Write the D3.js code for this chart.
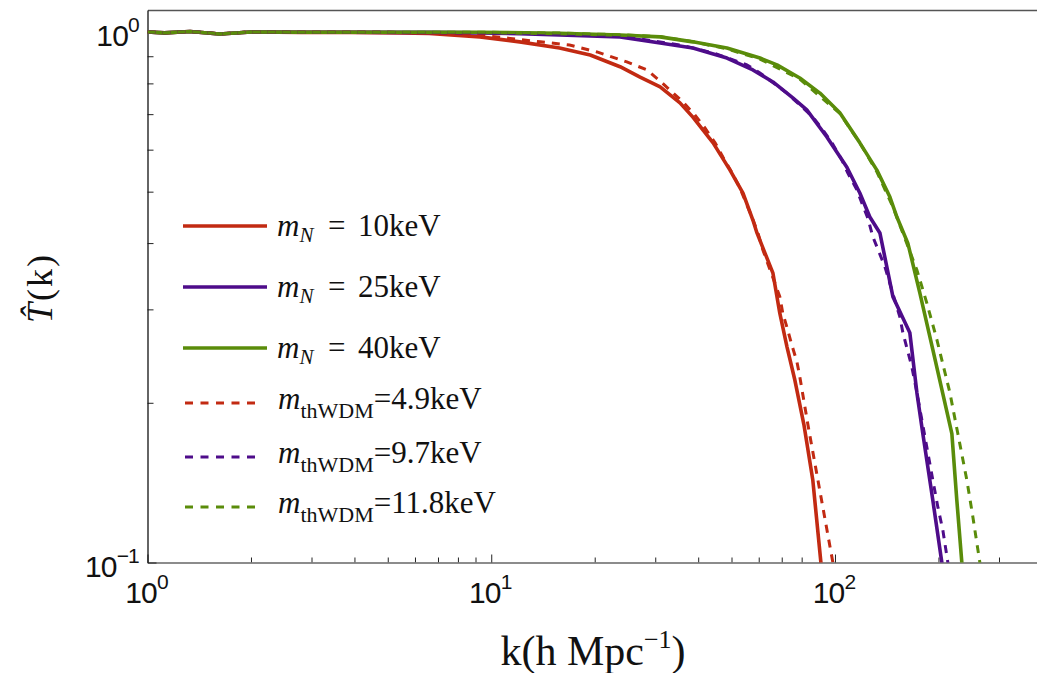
<!DOCTYPE html>
<html lang="en">
<head>
<meta charset="UTF-8">
<title>Transfer function T(k)</title>
<script src="https://cdn.jsdelivr.net/npm/d3@7"></script>
<style>
  body { margin: 0; background: #fff; }
  svg { display: block; }
</style>
</head>
<body>
<svg id="chart"></svg>
<script>
// solid lines: sterile neutrino m_N
const k10 = [1, 1.12, 1.33, 1.62, 2.0, 2.8, 3.9, 5.4, 6.6, 9.27, 12.1, 15.8, 19.4, 23.7, 27.1, 31.0, 35.4, 38.6, 44.2, 49.5, 54.0, 57.7, 59.3, 66.0, 69.1, 72.5, 76.4, 81.2, 86.2, 91.0, 93.0];
const t10 = [1.0, 0.996, 1.002, 0.991, 1.0, 0.998, 0.998, 0.996, 0.994, 0.979, 0.958, 0.933, 0.905, 0.860, 0.822, 0.788, 0.735, 0.691, 0.618, 0.549, 0.497, 0.442, 0.418, 0.351, 0.295, 0.255, 0.221, 0.182, 0.143, 0.100, 0.085];

const k25 = [1, 1.12, 1.33, 1.62, 2.0, 2.8, 3.9, 5.4, 6.6, 9.27, 12.1, 15.8, 23.7, 31.0, 38.6, 48.5, 57.7, 66.0, 75.4, 82.8, 94.7, 108.3, 118.1, 126.3, 135.1, 147.4, 165.1, 173.1, 180.1, 192.6, 204.6, 208];
const t25 = [1.0, 0.996, 1.002, 0.991, 1.0, 0.999, 0.999, 0.998, 0.998, 0.996, 0.993, 0.987, 0.979, 0.953, 0.933, 0.893, 0.848, 0.805, 0.751, 0.713, 0.634, 0.556, 0.497, 0.448, 0.418, 0.317, 0.271, 0.209, 0.175, 0.131, 0.100, 0.09];

const k40 = [1, 1.12, 1.33, 1.62, 2.0, 2.8, 3.9, 5.4, 6.6, 9.27, 15.8, 23.7, 31.0, 38.6, 48.5, 60.5, 67.8, 79.0, 90.4, 103.3, 118.1, 132.4, 144.4, 151.4, 162.9, 176.6, 192.6, 218.8, 226.2, 233.9, 236];
const t40 = [1.0, 0.996, 1.002, 0.991, 1.0, 0.999, 0.999, 0.999, 0.999, 0.999, 0.994, 0.987, 0.979, 0.958, 0.933, 0.893, 0.867, 0.819, 0.767, 0.704, 0.618, 0.549, 0.489, 0.448, 0.400, 0.322, 0.252, 0.175, 0.131, 0.100, 0.09];

// dashed lines: thermal WDM
const kW49 = [1, 1.12, 1.33, 1.62, 2.0, 2.8, 3.9, 5.4, 6.6, 9.27, 13.9, 16.9, 20.3, 24.8, 28.4, 31.0, 36.1, 39.1, 41.8, 44.8, 47.2, 50.1, 52.9, 57.3, 59.7, 61.7, 69.1, 70.5, 72.9, 74.9, 77.5, 79.0, 83.4, 89.2, 98.6, 101];
const tW49 = [1.0, 0.997, 1.002, 0.992, 1.0, 0.999, 0.999, 0.998, 0.996, 0.987, 0.958, 0.945, 0.917, 0.878, 0.848, 0.808, 0.738, 0.698, 0.660, 0.618, 0.581, 0.544, 0.508, 0.448, 0.418, 0.388, 0.317, 0.295, 0.274, 0.257, 0.239, 0.224, 0.182, 0.143, 0.100, 0.09];

const kW97 = [1, 1.12, 1.33, 1.62, 2.0, 2.8, 3.9, 5.4, 6.6, 9.27, 15.8, 23.7, 35.4, 44.2, 55.4, 60.5, 72.5, 86.2, 92.2, 98.0, 104.7, 109.0, 115.8, 119.7, 124.6, 128.9, 139.7, 146.4, 154.5, 157.6, 167.3, 173.1, 186.3, 192.6, 199.3, 206.0, 213.0, 216];
const tW97 = [1.0, 0.997, 1.002, 0.992, 1.0, 0.999, 0.999, 0.998, 0.998, 0.996, 0.991, 0.983, 0.945, 0.913, 0.867, 0.837, 0.767, 0.691, 0.654, 0.618, 0.574, 0.542, 0.504, 0.476, 0.446, 0.411, 0.361, 0.326, 0.290, 0.271, 0.234, 0.209, 0.161, 0.143, 0.127, 0.115, 0.100, 0.09];

const kW118 = [1, 1.12, 1.33, 1.62, 2.0, 2.8, 3.9, 5.4, 6.6, 9.27, 15.8, 23.7, 31.0, 38.6, 48.5, 60.5, 79.0, 103.3, 118.1, 132.4, 147.4, 173.1, 185.1, 197.9, 215.9, 227.7, 241.9, 251.8, 263.9, 268];
const tW118 = [1.0, 0.997, 1.002, 0.992, 1.0, 0.999, 0.999, 0.999, 0.999, 0.999, 0.995, 0.988, 0.980, 0.959, 0.929, 0.889, 0.815, 0.702, 0.618, 0.545, 0.468, 0.356, 0.308, 0.263, 0.209, 0.175, 0.143, 0.122, 0.100, 0.09];

const massN = ['10keV', '25keV', '40keV'];
const massWDM = ['4.9keV', '9.7keV', '11.8keV'];
const xMajor = [1, 10, 100];
const xMajorExp = ['0', '1', '2'];
const xMinor = [2, 3, 4, 5, 6, 7, 8, 9, 20, 30, 40, 50, 60, 70, 80, 90, 200, 300];
const yMajor = [0.1, 1];
const yMajorExp = ['\u22121', '0'];
const yMinor = [0.2, 0.3, 0.4, 0.5, 0.6, 0.7, 0.8, 0.9];

const colors = ['#c22a12', '#4e0c8a', '#5a8c0a'];

const SERIF = '"Liberation Serif", "Tinos", "Times New Roman", "DejaVu Serif", serif';
const SANS = '"Liberation Sans", Arimo, Arial, Helvetica, sans-serif';

const width = 1037, height = 673;
const svg = d3.select('#chart').attr('width', width).attr('height', height);

const x = d3.scaleLog().domain([1, 387]).range([147.5, 1037]);
const y = d3.scaleLog().domain([0.1, 1.1]).range([562.5, 10]);

svg.append('clipPath').attr('id', 'plotclip')
  .append('rect')
  .attr('x', x.range()[0]).attr('y', y.range()[1])
  .attr('width', x.range()[1] - x.range()[0])
  .attr('height', y.range()[0] - y.range()[1]);

// frame
svg.append('g')
  .attr('transform', `translate(0,${y.range()[1]})`)
  .call(d3.axisTop(x).tickValues([]).tickSizeOuter(0))
  .select('.domain').attr('stroke', '#555').attr('stroke-width', 1.3);

// ticks
const bottomMinor = svg.append('g')
  .attr('transform', `translate(0,${y.range()[0]})`)
  .call(d3.axisBottom(x).tickValues(xMinor).tickSize(-5).tickSizeOuter(0).tickFormat(''));
const bottomMajor = svg.append('g')
  .attr('transform', `translate(0,${y.range()[0]})`)
  .call(d3.axisBottom(x).tickValues(xMajor).tickSize(-8).tickSizeOuter(0).tickFormat(''));
bottomMinor.select('.domain').remove();
bottomMajor.select('.domain').attr('stroke', '#666').attr('stroke-width', 1.3);

const leftMinor = svg.append('g')
  .attr('transform', `translate(${x.range()[0]},0)`)
  .call(d3.axisLeft(y).tickValues(yMinor).tickSize(-6).tickSizeOuter(0).tickFormat(''));
const leftMajor = svg.append('g')
  .attr('transform', `translate(${x.range()[0]},0)`)
  .call(d3.axisLeft(y).tickValues(yMajor).tickSize(-9).tickSizeOuter(0).tickFormat(''));
leftMinor.select('.domain').remove();
leftMajor.select('.domain').attr('stroke', '#111').attr('stroke-width', 1.3);
svg.selectAll('.tick line').attr('stroke', '#222').attr('stroke-width', 1);

// tick labels with exponents
function powerLabel(px, py, anchor, exp) {
  const t = svg.append('text')
    .attr('x', px).attr('y', py)
    .attr('text-anchor', anchor)
    .attr('fill', '#111')
    .style('font-family', SANS)
    .style('font-size', '30px')
    .style('letter-spacing', '-0.8px');
  t.append('tspan').text('10');
  t.append('tspan').attr('dy', -14).style('font-size', '21px').text(exp);
}
xMajor.forEach((v, i) => powerLabel(x(v) - 1, y.range()[0] + 40, 'middle', xMajorExp[i]));
yMajor.forEach((v, i) => powerLabel(139, y(v) + 14, 'end', yMajorExp[i]));

// axis titles
const xt = svg.append('text')
  .attr('x', 593).attr('y', 665).attr('text-anchor', 'middle')
  .attr('fill', '#111')
  .style('font-family', SERIF).style('font-size', '42px');
xt.append('tspan').text('k(h Mpc');
xt.append('tspan').attr('dy', -17).style('font-size', '26px').text('\u22121');
xt.append('tspan').attr('dy', 17).text(')');

const yt = svg.append('text')
  .attr('transform', 'translate(52,288) rotate(-90)')
  .attr('text-anchor', 'middle')
  .attr('fill', '#111')
  .style('font-family', SERIF).style('font-size', '36px').style('letter-spacing', '2px');
yt.append('tspan').style('font-style', 'italic').text('T\u0302');
yt.append('tspan').text('(k)');

// curves
const line = d3.line().x(d => x(d[0])).y(d => y(d[1]));
const solid = [[k10, t10], [k25, t25], [k40, t40]];
const dashed = [[kW49, tW49], [kW97, tW97], [kW118, tW118]];
const plot = svg.append('g').attr('clip-path', 'url(#plotclip)');

solid.forEach((s, i) => {
  plot.append('path')
    .datum(d3.zip(s[0], s[1]))
    .attr('d', line)
    .attr('fill', 'none')
    .attr('stroke', colors[i])
    .attr('stroke-width', 3.6)
    .attr('stroke-linejoin', 'round');
});
dashed.forEach((s, i) => {
  plot.append('path')
    .datum(d3.zip(s[0], s[1]))
    .attr('d', line)
    .attr('fill', 'none')
    .attr('stroke', colors[i])
    .attr('stroke-width', 3)
    .attr('stroke-dasharray', '8,7');
});

// legend
const legend = svg.append('g');
const solidRows = [226, 287, 348];
const dashRows = [403, 457, 507];
massN.forEach((m, i) => {
  legend.append('line')
    .attr('x1', 183).attr('x2', 267).attr('y1', solidRows[i]).attr('y2', solidRows[i])
    .attr('stroke', colors[i]).attr('stroke-width', 3.6);
  const t = legend.append('text')
    .attr('x', 277).attr('y', solidRows[i] + 10)
    .attr('fill', '#111')
    .style('font-family', SERIF).style('font-size', '31px');
  t.append('tspan').style('font-style', 'italic').text('m');
  t.append('tspan').attr('dy', 6).style('font-style', 'italic').style('font-size', '21px').text('N');
  t.append('tspan').attr('dy', -6).attr('x', 328).text('=');
  t.append('tspan').attr('x', 358).text(m);
});
massWDM.forEach((m, i) => {
  legend.append('line')
    .attr('x1', 185).attr('x2', 262).attr('y1', dashRows[i]).attr('y2', dashRows[i])
    .attr('stroke', colors[i]).attr('stroke-width', 3).attr('stroke-dasharray', '8,7.5');
  const t = legend.append('text')
    .attr('x', 278).attr('y', dashRows[i] + 6)
    .attr('fill', '#111')
    .style('font-family', SERIF).style('font-size', '31px');
  t.append('tspan').style('font-style', 'italic').text('m');
  t.append('tspan').attr('dy', 9).style('font-size', '22px').text('thWDM');
  t.append('tspan').attr('dy', -9).text('=' + m);
});
</script>
</body>
</html>
